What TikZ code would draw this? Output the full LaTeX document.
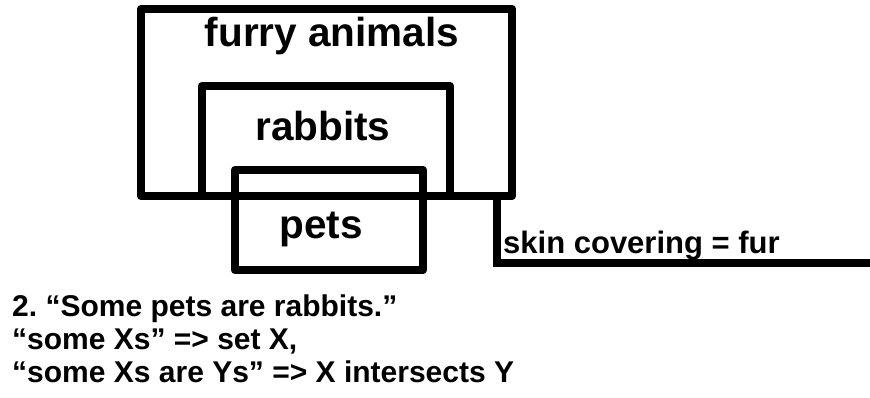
\documentclass[tikz,border=0pt]{standalone}
\usepackage{fontspec}
\setmainfont{Liberation Sans}
\frenchspacing
\begin{document}
\begin{tikzpicture}[x=1pt,y=-1pt,
  setbox/.style={draw=black, line width=8.5pt, line join=round, inner sep=0pt, minimum width=#1},
  big/.style={font=\bfseries\fontsize{40.5}{41}\selectfont, anchor=base, inner sep=0pt},
  mid/.style={font=\bfseries\fontsize{31}{31}\selectfont, anchor=base west, inner sep=0pt},
  small/.style={font=\bfseries\fontsize{30}{34}\selectfont, anchor=base west, inner sep=0pt}]
\useasboundingbox (0,0) rectangle (870,398);
\node[setbox=371pt, minimum height=187pt] (outer) at (326.5,102.5) {};
\node[setbox=248pt, minimum height=110pt] (rab) at (326,141) {};
\node[setbox=188pt, minimum height=100pt] (pets) at (329,220) {};
\coordinate (tail) at (870,263);
\draw[line width=8pt] ([xshift=-19pt]outer.south east) |- (tail);
\node[big] (tfurry) at (332,47) {furry animals};
\node[big] (trab) at (323,141) {rabbits};
\node[big] (tpets) at (321,238) {pets};
\node[mid] (tskin) at (503,254) {skin covering = fur};
\node[small] (l1) at (12,316) {2. “Some pets are rabbits.”};
\node[small] (l2) at (12,349) {“some Xs” => set X,};
\node[small] (l3) at (12,382) {“some Xs are Ys” => X intersects Y};
\end{tikzpicture}
\end{document}
